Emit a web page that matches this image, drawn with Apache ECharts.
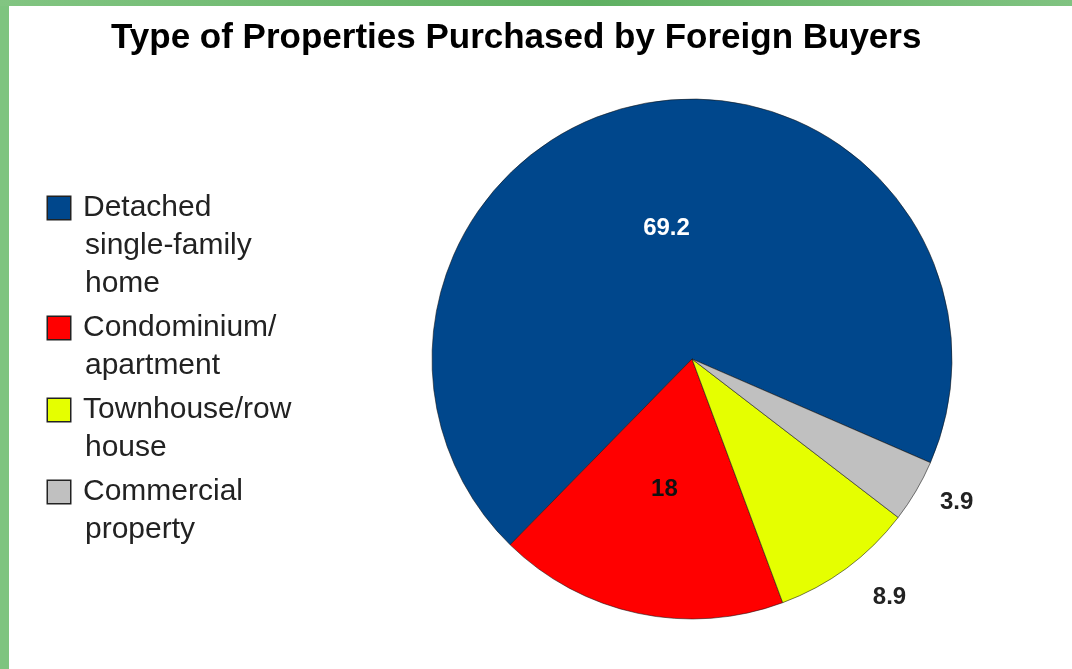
<!DOCTYPE html>
<html>
<head>
<meta charset="utf-8">
<script src="https://cdn.jsdelivr.net/npm/echarts@6/dist/echarts.min.js"></script>
<style>
  html, body { margin: 0; padding: 0; background: #fff; }
  #chart { position: absolute; left: 0; top: 0; width: 1072px; height: 669px; }
  .edge-left { position: absolute; left: 0; top: 0; width: 9px; height: 669px; background: #7ec47f; z-index: 5; }
  .edge-top { position: absolute; left: 0; top: 0; width: 1072px; height: 6px; z-index: 5;
    background: linear-gradient(90deg, #82c582, #5fb062 55%, #80c381); }
</style>
</head>
<body>
<div id="chart"></div>
<div class="edge-left"></div>
<div class="edge-top"></div>
<script>
// property types, share of purchases (%)
const categories = [
    'Detached single-family home',
    'Condominium/apartment',
    'Townhouse/row house',
    'Commercial property'
];
const legendLines = [
    ['Detached', 'single-family', 'home'],
    ['Condominium/', 'apartment'],
    ['Townhouse/row', 'house'],
    ['Commercial', 'property']
];
const shares = [69.2, 18, 8.9, 3.9];
const colors = ['#00478c', '#ff0000', '#e5ff00', '#c0c0c0'];
const labelColors = ['#ffffff', '#111111', '#222222', '#222222'];
const labelInside = [true, true, false, false];
const labelLineLen = [0, 0, 36, 22];

const rich = {
    gap: { width: 13 },
    ind: { width: 37 }
};
colors.forEach((c, i) => {
    rich['sq' + i] = { width: 22, height: 22, backgroundColor: c, borderColor: '#222', borderWidth: 1.5 };
});

const chart = echarts.init(document.getElementById('chart'));
chart.setOption({
    backgroundColor: '#fff',
    animation: false,
    color: colors,
    title: {
        text: 'Type of Properties Purchased by Foreign Buyers',
        left: 111,
        top: 21,
        padding: 0,
        textStyle: {
            fontFamily: 'Liberation Sans',
            fontSize: 35,
            fontWeight: 'bold',
            color: '#000'
        }
    },
    legend: {
        orient: 'vertical',
        left: 43,
        top: 189,
        padding: 0,
        icon: 'none',
        itemWidth: 0,
        itemHeight: 0,
        itemGap: 6,
        data: categories,
        formatter: name => {
            const i = categories.indexOf(name);
            const lines = legendLines[i];
            return '{sq' + i + '|}{gap|}' + lines[0] +
                lines.slice(1).map(l => '\n{ind|}' + l).join('');
        },
        textStyle: {
            fontFamily: 'Liberation Sans',
            fontSize: 30,
            lineHeight: 38,
            color: '#222',
            rich: rich
        }
    },
    series: [{
        type: 'pie',
        center: [692, 359],
        radius: 260,
        clockwise: false,
        startAngle: -23.5,
        avoidLabelOverlap: false,
        minShowLabelAngle: 0,
        itemStyle: {
            borderColor: 'rgba(20,20,20,0.7)',
            borderWidth: 0.8
        },
        emphasis: { disabled: true },
        data: categories.map((name, i) => ({
            name: name,
            value: shares[i],
            labelLine: { show: false, length: labelLineLen[i], length2: 0 },
            label: {
                show: true,
                position: labelInside[i] ? 'inside' : 'outside',
                formatter: '{c}',
                color: labelColors[i],
                fontFamily: 'Liberation Sans',
                fontSize: 24,
                fontWeight: 'bold'
            }
        }))
    }]
});
</script>
</body>
</html>
